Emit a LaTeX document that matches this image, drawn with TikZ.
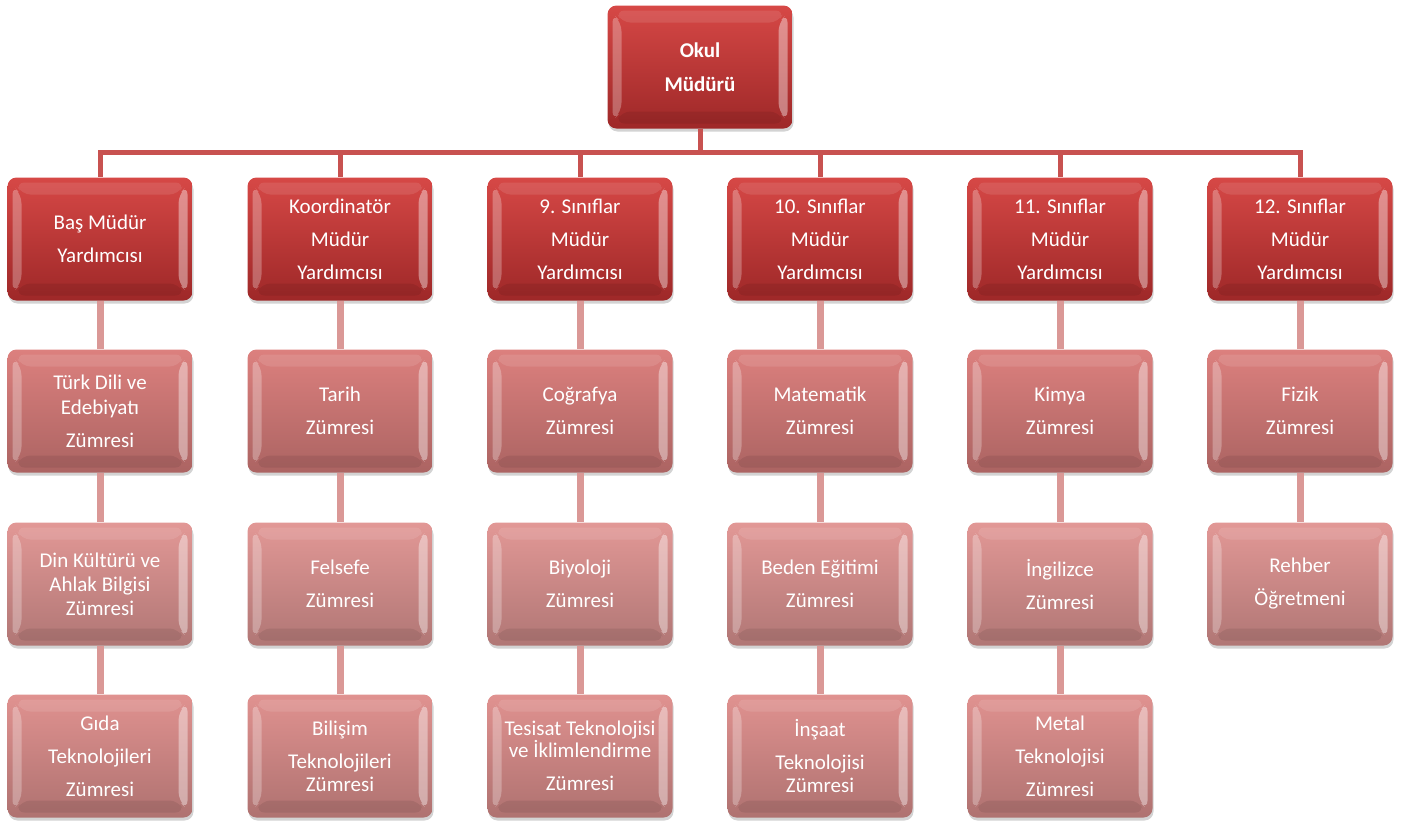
\documentclass[tikz,border=0pt]{standalone}
\usepackage{fontspec}
\setmainfont{Carlito}
\usetikzlibrary{shadows}

\definecolor{mudurust}{RGB}{214,72,70}
\definecolor{mudural}{RGB}{158,40,40}
\definecolor{zumreiki}{RGB}{220,128,126}
\definecolor{zumreuc}{RGB}{226,152,150}
\definecolor{zumredort}{RGB}{224,146,144}
\definecolor{ustbag}{RGB}{200,82,80}
\definecolor{altbag}{RGB}{218,152,150}

\tikzset{
	kutu/.style={rounded corners=9pt, minimum width=185pt, minimum height=123pt, inner sep=0pt,
		align=center, text=white, font=\fontsize{21}{33}\selectfont,
		drop shadow={opacity=.35, shadow xshift=1pt, shadow yshift=-3pt},
		path picture={
			\fill[white,opacity=.28] ([xshift=5pt,yshift=-8pt]path picture bounding box.north west) -- ([xshift=14pt,yshift=-17pt]path picture bounding box.north west) -- ([xshift=14pt,yshift=17pt]path picture bounding box.south west) -- ([xshift=5pt,yshift=8pt]path picture bounding box.south west) -- cycle;
			\fill[white,opacity=.4] ([xshift=-5pt,yshift=-8pt]path picture bounding box.north east) -- ([xshift=-14pt,yshift=-17pt]path picture bounding box.north east) -- ([xshift=-14pt,yshift=17pt]path picture bounding box.south east) -- ([xshift=-5pt,yshift=8pt]path picture bounding box.south east) -- cycle;
			\fill[white,opacity=.1] ([xshift=8pt,yshift=-5pt]path picture bounding box.north west) -- ([xshift=-8pt,yshift=-5pt]path picture bounding box.north east) -- ([xshift=-14pt,yshift=-17pt]path picture bounding box.north east) -- ([xshift=14pt,yshift=-17pt]path picture bounding box.north west) -- cycle;
			\fill[black,opacity=.08] ([xshift=8pt,yshift=5pt]path picture bounding box.south west) -- ([xshift=-8pt,yshift=5pt]path picture bounding box.south east) -- ([xshift=-14pt,yshift=17pt]path picture bounding box.south east) -- ([xshift=14pt,yshift=17pt]path picture bounding box.south west) -- cycle;
		}},
	mudur/.style={kutu, top color=mudurust, bottom color=mudural},
	zumre/.style={kutu, top color=#1, bottom color=#1!78!black},
	ustcizgi/.style={ustbag, line width=5pt},
	altcizgi/.style={altbag, line width=7pt}
}

\begin{document}
\begin{tikzpicture}[x=1pt,y=-1pt]
	\useasboundingbox (0,0) rectangle (1403,820);
	% okul muduru
	\node[mudur, font=\bfseries\fontsize{21}{33}\selectfont] (okul) at (700,67) {Okul\\[1pt]Müdürü};
	% mudur yardimcilari
	\node[mudur] (bas) at (100,239) {Baş Müdür\\Yardımcısı};
	\node[mudur] (koor) at (340,239) {Koordinatör\\Müdür\\Yardımcısı};
	\node[mudur] (dokuz) at (580,239) {9. Sınıflar\\Müdür\\Yardımcısı};
	\node[mudur] (on) at (820,239) {10. Sınıflar\\Müdür\\Yardımcısı};
	\node[mudur] (onbir) at (1060,239) {11. Sınıflar\\Müdür\\Yardımcısı};
	\node[mudur] (oniki) at (1300,239) {12. Sınıflar\\Müdür\\Yardımcısı};
	% zumreler
	\node[zumre=zumreiki] (turk) at (100,411) {Türk Dili ve\\[-8pt]Edebiyatı\\Zümresi};
	\node[zumre=zumreiki] (tarih) at (340,411) {Tarih\\Zümresi};
	\node[zumre=zumreiki] (cog) at (580,411) {Coğrafya\\Zümresi};
	\node[zumre=zumreiki] (mat) at (820,411) {Matematik\\Zümresi};
	\node[zumre=zumreiki] (kimya) at (1060,411) {Kimya\\Zümresi};
	\node[zumre=zumreiki] (fizik) at (1300,411) {Fizik\\Zümresi};

	\node[zumre=zumreuc] (din) at (100,584) {Din Kültürü ve\\[-9pt]Ahlak Bilgisi\\[-9pt]Zümresi};
	\node[zumre=zumreuc] (felsefe) at (340,584) {Felsefe\\Zümresi};
	\node[zumre=zumreuc] (biyo) at (580,584) {Biyoloji\\Zümresi};
	\node[zumre=zumreuc] (beden) at (820,584) {Beden Eğitimi\\Zümresi};
	\node[zumre=zumreuc] (ing) at (1060,584) {İngilizce\\Zümresi};
	\node[zumre=zumreuc] (rehber) at (1300,584) {Rehber\\Öğretmeni};

	\node[zumre=zumredort] (gida) at (100,756) {Gıda\\Teknolojileri\\Zümresi};
	\node[zumre=zumredort] (bilisim) at (340,756) {Bilişim\\Teknolojileri\\[-10pt]Zümresi};
	\node[zumre=zumredort] (tesisat) at (580,756) {Tesisat Teknolojisi\\[-11pt]ve İklimlendirme\\Zümresi};
	\node[zumre=zumredort] (insaat) at (820,756) {İnşaat\\Teknolojisi\\[-10pt]Zümresi};
	\node[zumre=zumredort] (metal) at (1060,756) {Metal\\Teknolojisi\\Zümresi};

	% baglantilar
	\foreach \y in {bas,koor,dokuz,on,onbir,oniki}
		\draw[ustcizgi] (okul.south) -- ++(0,24) -| (\y.north);
	\foreach \a/\b in {bas/turk,turk/din,din/gida,koor/tarih,tarih/felsefe,felsefe/bilisim,dokuz/cog,cog/biyo,biyo/tesisat,on/mat,mat/beden,beden/insaat,onbir/kimya,kimya/ing,ing/metal,oniki/fizik,fizik/rehber}
		\draw[altcizgi] (\a.south) -- (\b.north);
\end{tikzpicture}
\end{document}
